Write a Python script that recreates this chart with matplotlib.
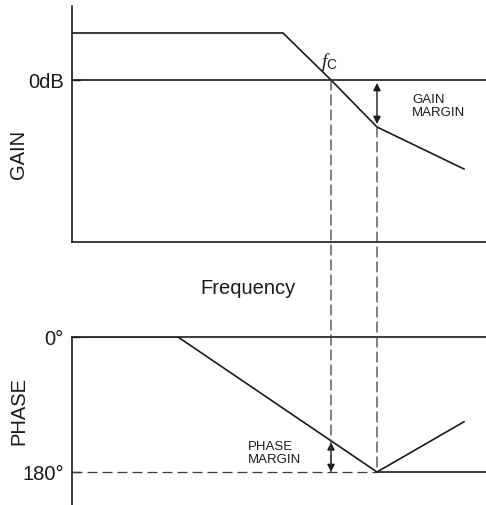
"""Bode plot sketch: gain and phase asymptotes with gain / phase margin."""

import numpy as np
import matplotlib as mpl
import matplotlib.pyplot as plt
from matplotlib.patches import ConnectionPatch

mpl.rcParams['font.family'] = 'Liberation Sans'
mpl.rcParams['mathtext.fontset'] = 'custom'
mpl.rcParams['mathtext.it'] = 'Liberation Serif:italic'
mpl.rcParams['mathtext.rm'] = 'Liberation Sans'

# log10 frequency breakpoints (decades) and asymptote values
gain_freq = [0.0, 2.11, 2.59, 3.05, 3.92]
gain_db = [23.5, 23.5, 0.0, -23.5, -44.5]
phase_freq = [0.0, 1.06, 3.05, 3.92]
phase_deg = [0.0, 0.0, 180.0, 113.0]

f_c = 2.59      # crossover, gain = 0 dB
f_180 = 3.05    # phase reaches 180 deg

black = '#1a1a1a'
dash_col = '#3a3a3a'
dash = (0, (8, 4))
lw = 1.2
big = 14.5
small = 9.5

fig = plt.figure(figsize=(4.86, 5.06), dpi=100)
ax_g = fig.add_axes([72 / 486, 1 - 243 / 506, 414 / 486, 236 / 506])
ax_p = fig.add_axes([72 / 486, 0.0, 414 / 486, 168 / 506])

for ax in (ax_g, ax_p):
    ax.set_xlim(0, 4.14)
    ax.set_xticks([])
    ax.tick_params(axis='y', direction='in', length=6, width=1.0,
                   color=black, pad=6, labelsize=big, labelcolor=black)
    ax.spines['right'].set_visible(False)
    for s in ax.spines.values():
        s.set_linewidth(lw)
        s.set_color(black)

# gain panel
ax_g.set_ylim(-81, 37)
ax_g.spines['top'].set_visible(False)
ax_g.set_yticks([0])
ax_g.set_yticklabels(['0dB'])
ax_g.axhline(0, color=black, lw=lw)
ax_g.plot(gain_freq, gain_db, color=black, lw=lw, solid_joinstyle='miter')
gm = np.interp(f_180, gain_freq, gain_db)
ax_g.annotate('', xy=(f_180, gm + 1.5), xytext=(f_180, -1.5),
              arrowprops=dict(arrowstyle='<|-|>', color=black, lw=1.0,
                              mutation_scale=11, shrinkA=0, shrinkB=0))
ax_g.text(3.40, -12.75, 'GAIN\nMARGIN', fontsize=small, ha='left',
          va='center', linespacing=1.05, color=black)
ax_g.text(2.49, 9.5, r'$f_\mathrm{C}$', fontsize=14, ha='left', va='center',
          color=black)

# phase panel
ax_p.set_ylim(224, 0)
ax_p.spines['bottom'].set_visible(False)
ax_p.set_yticks([0, 180])
ax_p.set_yticklabels(['0°', '180°'])
ax_p.plot(phase_freq, phase_deg, color=black, lw=lw, solid_joinstyle='miter')
ax_p.plot([0, f_180], [180, 180], color=dash_col, lw=0.9, linestyle=dash)
ax_p.plot([f_180, 4.14], [180, 180], color=black, lw=lw)
pm = np.interp(f_c, phase_freq, phase_deg)
ax_p.annotate('', xy=(f_c, pm + 2), xytext=(f_c, 180),
              arrowprops=dict(arrowstyle='<|-|>', color=black, lw=1.0,
                              mutation_scale=11, shrinkA=0, shrinkB=0))
ax_p.text(1.76, 154, 'PHASE\nMARGIN', fontsize=small, ha='left', va='center',
          linespacing=1.05, color=black)

# dashed drop lines from the gain plot down to the 180 deg line
for f, g in [(f_c, 0.0), (f_180, gm)]:
    con = ConnectionPatch(xyA=(f, g), coordsA=ax_g.transData,
                          xyB=(f, 180), coordsB=ax_p.transData,
                          color=dash_col, lw=0.9, linestyle=dash)
    fig.add_artist(con)

fig.text(18.5 / 486, 1 - 154.5 / 506, 'GAIN', rotation=90, ha='center',
         va='center', fontsize=big, color=black)
fig.text(18.5 / 486, 1 - 411 / 506, 'PHASE', rotation=90, ha='center',
         va='center', fontsize=big, color=black)
fig.text(248 / 486, 1 - 288 / 506, 'Frequency', ha='center', va='center',
         fontsize=big, color=black)

fig.savefig('out.png', dpi=100)
